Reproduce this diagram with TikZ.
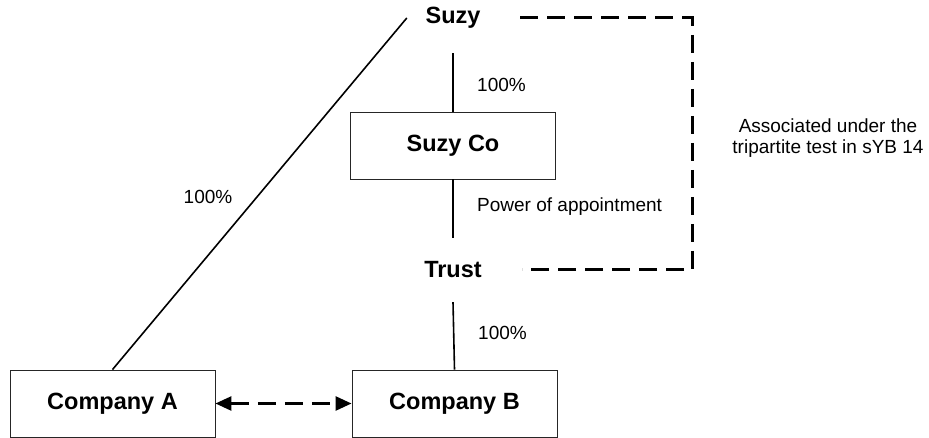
\documentclass[tikz,border=0pt]{standalone}
\usepackage{fontspec}
\setmainfont{Liberation Sans}
\usetikzlibrary{arrows.meta}
\begin{document}
\begin{tikzpicture}[x=1pt,y=-1pt,
  boxnode/.style={draw=black!85,line width=0.9pt,minimum width=205pt,minimum height=67pt,inner sep=0pt,
    font=\fontsize{23.5}{28}\selectfont\bfseries},
  boldlabel/.style={inner sep=0pt,font=\fontsize{23.5}{28}\selectfont\bfseries},
  plainlabel/.style={inner sep=0pt,font=\fontsize{19}{22}\selectfont},
  link/.style={line width=1.6pt},
  assocline/.style={line width=3pt,dash pattern=on 18pt off 9pt},
  tiearrow/.style={line width=2.6pt,dash pattern=on 18pt off 9pt,
    {Triangle[length=16pt,width=14pt]}-{Triangle[length=16pt,width=14pt]}}]
\useasboundingbox (0,0) rectangle (929,438);
% nodes
\node[boldlabel,minimum width=92pt,minimum height=70pt] (suzy) at (453,18) {Suzy};
\node[boxnode] (suzyco) at (453,145.5) {Suzy Co};
\node[boldlabel,minimum height=64pt] (trust) at (453,270) {Trust};
\node[boxnode] (compA) at (112.5,403.5) {Company A};
\node[boxnode] (compB) at (454.5,403.5) {Company B};
% labels
\node[plainlabel] (pctA) at (208,197) {100\%};
\node[plainlabel,anchor=west] (pctCo) at (477,85) {100\%};
\node[plainlabel,anchor=west] (power) at (477,207) {Power of appointment};
\node[plainlabel,anchor=west] (pctB) at (478,333) {100\%};
\node[plainlabel,align=center,font=\fontsize{19}{21}\selectfont] (assoc) at (828,138)
  {Associated under the\\tripartite test in sYB 14};
% connectors
\draw[link] (compA.north) -- (suzy.west);
\draw[link] (suzy.south) -- (suzyco.north);
\draw[link] (suzyco.south) -- (trust.north);
\draw[link] (trust.south) -- (compB.north);
\coordinate (dA) at (520,18);
\coordinate (dC) at (692,270);
\coordinate (dD) at (522,270);
\draw[assocline] (dA) -| (dC) -- (dD);
\draw[tiearrow] (compA.east) -- (compB.west);
\end{tikzpicture}
\end{document}
